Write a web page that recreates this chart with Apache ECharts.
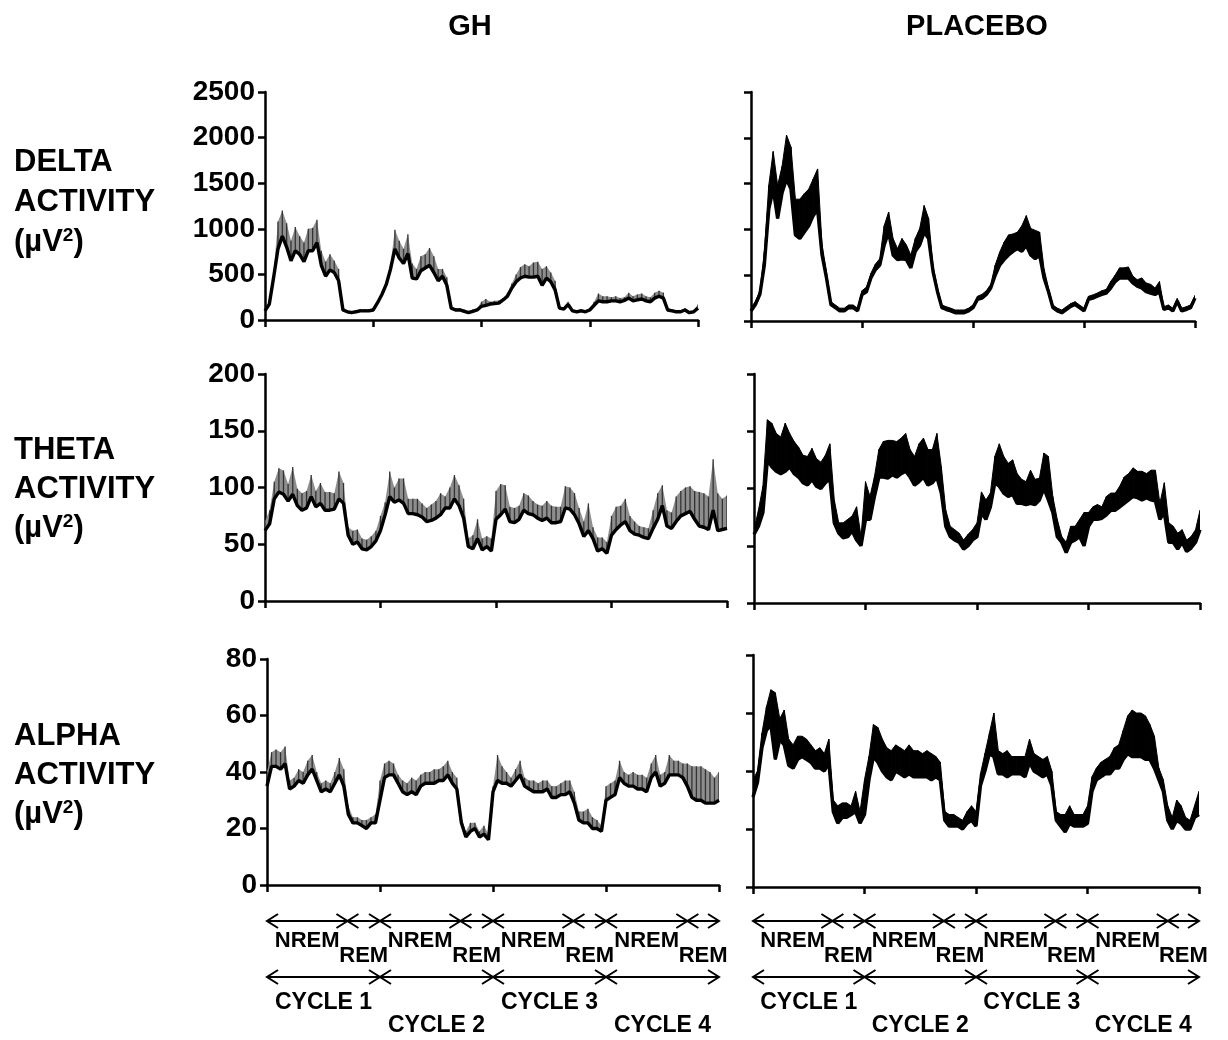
<!DOCTYPE html>
<html>
<head>
<meta charset="utf-8">
<script src="https://cdn.jsdelivr.net/npm/echarts@6/dist/echarts.min.js"></script>
<style>
  html, body { margin: 0; padding: 0; background: #fff; }
  #chart { width: 1228px; height: 1040px; }
</style>
</head>
<body>
<div id="chart"></div>
<script>
// x: 25 time bins per sleep cycle, 4 cycles (NREM then REM in each)
const cycleTicks = [0, 25, 50, 75, 100]
const stageBounds = [0, 17.8, 25, 42.8, 50, 67.8, 75, 93, 100]
const stageNames = ['NREM', 'REM', 'NREM', 'REM', 'NREM', 'REM', 'NREM', 'REM']
const cycleNames = ['CYCLE 1', 'CYCLE 2', 'CYCLE 3', 'CYCLE 4']

// DELTA (uV^2): mean and mean+SEM
const deltaGhMean = [
  100, 175, 470, 780, 920, 800, 650, 760, 720, 640,
  760, 760, 850, 600, 480, 550, 520, 430, 110, 90,
  80, 90, 100, 100, 100, 110, 190, 280, 390, 560,
  780, 680, 620, 730, 460, 450, 540, 570, 600, 520,
  430, 480, 380, 130, 110, 110, 95, 80, 95, 110,
  150, 160, 175, 180, 185, 220, 260, 350, 420, 460,
  480, 470, 470, 480, 380, 460, 420, 330, 130, 120,
  170, 100, 90, 100, 90, 110, 160, 210, 200, 200,
  210, 210, 200, 215, 240, 210, 220, 230, 210, 200,
  240, 260, 240, 110, 100, 90, 90, 110, 80, 90,
  130]
const deltaGhHigh = [
  110, 200, 520, 1080, 1200, 1060, 870, 1020, 920, 850,
  1000, 1010, 1100, 760, 640, 720, 650, 560, 140, 110,
  100, 110, 120, 120, 120, 130, 210, 310, 420, 620,
  990, 870, 780, 940, 620, 560, 700, 720, 790, 700,
  560, 560, 470, 150, 130, 130, 115, 100, 115, 130,
  200, 230, 200, 210, 215, 240, 300, 400, 500, 580,
  610, 590, 630, 640, 560, 590, 520, 430, 150, 140,
  200, 120, 110, 120, 110, 130, 200, 290, 260, 260,
  250, 260, 240, 250, 300, 260, 280, 290, 260, 250,
  300, 320, 300, 130, 120, 110, 110, 130, 100, 110,
  170]
const deltaPlMean = [
  110, 180, 290, 610, 1220, 1440, 1120, 1400, 1550, 1440,
  940, 900, 970, 1040, 1150, 1220, 720, 470, 180, 145,
  110, 110, 145, 145, 110, 290, 320, 470, 560, 610,
  830, 970, 720, 670, 680, 670, 580, 760, 830, 970,
  900, 540, 320, 145, 125, 110, 90, 90, 90, 110,
  145, 235, 250, 290, 360, 500, 610, 670, 720, 760,
  790, 760, 830, 720, 680, 720, 470, 320, 145, 110,
  90, 125, 160, 180, 145, 110, 235, 250, 270, 290,
  305, 360, 430, 470, 470, 470, 415, 380, 360, 320,
  305, 290, 320, 125, 145, 110, 215, 110, 125, 145,
  250]
const deltaPlHigh = [
  145, 215, 330, 750, 1480, 1850, 1480, 1690, 2030, 1900,
  1330, 1330, 1390, 1440, 1550, 1660, 830, 540, 210, 175,
  140, 140, 175, 175, 140, 330, 370, 520, 620, 680,
  1040, 1190, 900, 790, 900, 830, 720, 900, 1010, 1260,
  1120, 600, 360, 175, 155, 140, 120, 120, 120, 140,
  175, 270, 290, 330, 400, 610, 750, 860, 940, 950,
  970, 1040, 1150, 1010, 990, 970, 570, 360, 175, 140,
  120, 155, 190, 210, 175, 140, 270, 285, 305, 330,
  345, 430, 500, 580, 580, 590, 490, 450, 470, 415,
  400, 360, 430, 155, 175, 140, 245, 140, 155, 175,
  280]

// THETA
const thetaGhMean = [
  62, 68, 90, 96, 94, 88, 94, 84, 80, 82,
  92, 83, 86, 80, 80, 81, 90, 86, 58, 50,
  52, 46, 45, 48, 53, 62, 76, 92, 87, 89,
  86, 77, 77, 76, 74, 70, 71, 73, 76, 82,
  82, 90, 84, 73, 48, 46, 55, 45, 48, 44,
  72, 76, 81, 70, 69, 72, 80, 77, 76, 73,
  71, 73, 69, 69, 70, 82, 81, 76, 68, 57,
  62, 55, 44, 46, 42, 58, 63, 67, 70, 62,
  59, 58, 56, 55, 64, 72, 84, 66, 64, 70,
  75, 77, 79, 72, 66, 65, 63, 80, 62, 63,
  64]
const thetaGhHigh = [
  70, 80, 105, 117, 115, 103, 118, 99, 95, 97,
  111, 97, 104, 96, 96, 95, 114, 104, 65, 62,
  63, 55, 54, 57, 62, 75, 87, 114, 100, 108,
  108, 90, 90, 90, 86, 82, 85, 88, 95, 92,
  100, 111, 102, 90, 55, 58, 72, 55, 57, 55,
  97, 103, 102, 83, 82, 84, 95, 93, 88, 85,
  84, 88, 84, 83, 83, 101, 100, 95, 82, 70,
  86, 65, 56, 56, 52, 75, 83, 84, 90, 75,
  70, 66, 65, 64, 80, 95, 102, 80, 78, 92,
  97, 100, 101, 97, 96, 95, 92, 125, 95, 90,
  93]
const thetaPlMean = [
  60, 67, 79, 125, 119, 115, 113, 115, 119, 113,
  110, 105, 103, 108, 102, 100, 105, 109, 70, 61,
  57, 58, 63, 55, 50, 73, 73, 93, 110, 110,
  109, 112, 110, 113, 115, 110, 103, 106, 110, 103,
  105, 110, 96, 67, 58, 55, 53, 47, 50, 55,
  58, 79, 73, 84, 105, 102, 96, 93, 95, 87,
  87, 86, 87, 86, 90, 100, 90, 79, 58, 53,
  44, 53, 55, 58, 50, 67, 73, 73, 74, 77,
  81, 81, 84, 87, 90, 93, 92, 90, 92, 90,
  89, 73, 79, 53, 53, 47, 53, 45, 48, 53,
  64]
const thetaPlHigh = [
  64, 81, 102, 160, 157, 148, 145, 157, 148, 141,
  136, 129, 128, 135, 126, 123, 129, 139, 90, 70,
  70, 73, 76, 84, 58, 106, 93, 110, 134, 141,
  142, 142, 141, 144, 148, 134, 128, 139, 144, 134,
  134, 148, 119, 81, 67, 64, 61, 55, 60, 64,
  70, 97, 90, 96, 128, 139, 128, 122, 125, 113,
  108, 106, 116, 108, 109, 131, 128, 93, 73, 58,
  53, 67, 67, 73, 79, 79, 84, 86, 84, 93,
  96, 96, 102, 110, 113, 118, 115, 115, 113, 116,
  116, 87, 105, 70, 67, 61, 64, 55, 58, 64,
  81]

// ALPHA
const alphaGhMean = [
  35, 42, 42, 41, 43, 34, 35, 37, 36, 39,
  41, 37, 33, 34, 33, 36, 39, 35, 25, 22,
  22, 21, 20, 22, 22, 30, 38, 39, 39, 36,
  33, 32, 33, 32, 35, 36, 36, 36, 37, 37,
  39, 36, 34, 22, 17, 19, 20, 17, 18, 16,
  33, 37, 36, 36, 35, 37, 39, 35, 34, 33,
  33, 33, 34, 31, 31, 32, 32, 33, 29, 23,
  22, 22, 20, 20, 19, 30, 31, 32, 38, 36,
  35, 35, 34, 34, 33, 38, 40, 35, 36, 39,
  39, 39, 38, 35, 31, 30, 30, 29, 29, 29,
  30]
const alphaGhHigh = [
  40, 47, 48, 47, 49, 37, 38, 41, 40, 44,
  46, 40, 36, 37, 36, 40, 45, 41, 28, 24,
  24, 23, 23, 24, 25, 37, 43, 44, 43, 39,
  37, 36, 38, 37, 39, 40, 40, 41, 41, 42,
  44, 40, 38, 24, 19, 22, 22, 19, 21, 18,
  35, 46, 42, 40, 38, 41, 44, 38, 37, 37,
  36, 37, 37, 35, 35, 36, 37, 37, 33, 26,
  26, 27, 24, 23, 21, 35, 36, 37, 44, 40,
  39, 40, 39, 39, 38, 43, 46, 39, 40, 46,
  44, 44, 43, 43, 42, 42, 42, 41, 40, 38,
  40]
const alphaPlMean = [
  31, 36, 48, 54, 56, 44, 51, 49, 42, 41,
  44, 45, 44, 43, 41, 41, 40, 43, 26, 22,
  24, 24, 25, 26, 22, 25, 37, 45, 43, 40,
  38, 37, 40, 39, 38, 39, 38, 38, 38, 38,
  37, 38, 37, 23, 21, 21, 21, 20, 22, 23,
  21, 35, 40, 46, 45, 39, 39, 38, 39, 39,
  39, 38, 43, 40, 39, 38, 39, 35, 23, 21,
  19, 22, 21, 21, 21, 22, 33, 37, 38, 39,
  39, 41, 41, 44, 46, 45, 45, 45, 44, 44,
  41, 37, 33, 23, 20, 23, 22, 20, 20, 24,
  25]
const alphaPlHigh = [
  37, 40, 53, 62, 68, 67, 58, 61, 51, 49,
  52, 52, 51, 49, 47, 48, 46, 51, 30, 28,
  29, 29, 28, 33, 26, 37, 45, 56, 55, 51,
  48, 47, 49, 48, 47, 49, 47, 47, 46, 47,
  46, 45, 43, 26, 25, 25, 24, 23, 26, 28,
  26, 39, 46, 53, 60, 47, 46, 47, 45, 45,
  45, 45, 51, 46, 45, 44, 45, 40, 26, 25,
  25, 28, 25, 25, 25, 28, 38, 41, 43, 44,
  45, 48, 49, 54, 59, 61, 60, 60, 59, 56,
  52, 41, 37, 28, 24, 30, 28, 24, 23, 28,
  33]

const FONT = '"Liberation Sans", Arial, sans-serif'

// panel layout: [left, top, width, height]
const panels = [
  { box: [265, 92, 433, 228], max: 2500, step: 500, mean: deltaGhMean, high: deltaGhHigh, labels: true, dense: false },
  { box: [265, 374, 462, 227], max: 200, step: 50, mean: thetaGhMean, high: thetaGhHigh, labels: true, dense: false },
  { box: [267, 659, 452, 226], max: 80, step: 20, mean: alphaGhMean, high: alphaGhHigh, labels: true, dense: false },
  { box: [751, 92, 444, 229], max: 2500, step: 500, mean: deltaPlMean, high: deltaPlHigh, labels: false, dense: true },
  { box: [754, 374, 446, 229], max: 200, step: 50, mean: thetaPlMean, high: thetaPlHigh, labels: false, dense: true },
  { box: [753, 655, 446, 232], max: 80, step: 20, mean: alphaPlMean, high: alphaPlHigh, labels: false, dense: true }
]

// error region between point i and i+1 (mean .. mean+SEM)
function bandItem(params, api) {
  const i = params.dataIndexInside
  const x = api.value(0)
  const hasNext = i + 1 < params.dataInsideLength
  const nx = hasNext ? api.value(0, i + 1) : x
  const p1 = api.coord([x, api.value(2)])
  const p2 = api.coord([nx, hasNext ? api.value(2, i + 1) : api.value(2)])
  const p3 = api.coord([nx, hasNext ? api.value(1, i + 1) : api.value(1)])
  const p4 = api.coord([x, api.value(1)])
  const dense = params.seriesName === 'placebo'
  const children = []
  if (hasNext) {
    children.push({
      type: 'polygon',
      shape: { points: [p1, p2, p3, p4] },
      style: { fill: dense ? '#000' : '#8e8e8e', stroke: dense ? '#000' : null, lineWidth: 1 }
    })
  }
  if (!dense) {
    // GH: visible individual error bars
    children.push({
      type: 'line',
      shape: { x1: p4[0], y1: p4[1], x2: p1[0], y2: p1[1] },
      style: { stroke: '#333', lineWidth: 1.3 }
    })
  }
  return { type: 'group', children }
}

const axisLine = { show: true, lineStyle: { color: '#000', width: 2.5 } }
const axisTick = { show: true, length: 7, lineStyle: { color: '#000', width: 2.5 } }

const grid = []
const xAxis = []
const yAxis = []
const series = []

panels.forEach((p, k) => {
  grid.push({
    left: p.box[0], top: p.box[1], width: p.box[2], height: p.box[3],
    containLabel: false, outerBoundsMode: 'none'
  })
  xAxis.push({
    type: 'value', gridIndex: k, min: 0, max: 100, interval: 25,
    axisLine, axisTick, axisLabel: { show: false }, splitLine: { show: false }
  })
  yAxis.push({
    type: 'value', gridIndex: k, min: 0, max: p.max, interval: p.step,
    axisLine, axisTick, splitLine: { show: false },
    axisLabel: {
      show: p.labels, color: '#000', fontFamily: FONT, fontWeight: 'bold',
      fontSize: 28, margin: 10, formatter: v => String(v)
    }
  })
  const rows = p.mean.map((v, i) => [i, v, p.high[i]])
  series.push({
    type: 'custom', name: p.dense ? 'placebo' : 'gh',
    xAxisIndex: k, yAxisIndex: k, clip: true,
    renderItem: bandItem,
    encode: { x: 0, y: [1, 2] },
    data: rows, silent: true, z: 1
  })
  series.push({
    type: 'line', xAxisIndex: k, yAxisIndex: k, symbol: 'none',
    lineStyle: { color: '#000', width: 3.4 },
    data: p.mean.map((v, i) => [i, v]), silent: true, z: 2
  })
})

function txt(x, y, s, size, align) {
  return {
    type: 'text', x, y,
    style: {
      text: s, fill: '#000', font: 'bold ' + size + 'px ' + FONT,
      align: align || 'center', verticalAlign: 'middle',
      rich: {
        sup: { fontSize: Math.round(size * 0.62), fontWeight: 'bold', fontFamily: FONT, verticalAlign: 'top', fill: '#000' }
      }
    }
  }
}

const rowLabels = [
  ['DELTA', 162], ['ACTIVITY', 202], ['(µV{sup|2})', 242],
  ['THETA', 450], ['ACTIVITY', 489], ['(µV{sup|2})', 528],
  ['ALPHA', 736], ['ACTIVITY', 775], ['(µV{sup|2})', 814]
]

const chart = echarts.init(document.getElementById('chart'), null, { renderer: 'canvas' })
chart.setOption({
  animation: false,
  backgroundColor: '#fff',
  grid, xAxis, yAxis, series
})

// open chevron arrow between two pixel x positions
function arrow(x1, x2, y) {
  const h = 11
  const v = 7
  return [
    { type: 'line', shape: { x1, y1: y, x2, y2: y }, style: { stroke: '#000', lineWidth: 2 } },
    { type: 'polyline', shape: { points: [[x1 + h, y - v], [x1, y], [x1 + h, y + v]] }, style: { stroke: '#000', lineWidth: 2, fill: null } },
    { type: 'polyline', shape: { points: [[x2 - h, y - v], [x2, y], [x2 - h, y + v]] }, style: { stroke: '#000', lineWidth: 2, fill: null } }
  ]
}

const extras = []
extras.push(txt(470, 27, 'GH', 29))
extras.push(txt(977, 27, 'PLACEBO', 29))
rowLabels.forEach(r => extras.push(txt(14, r[1], r[0], 31, 'left')))

// stage and cycle markers under the alpha panels, placed with the x scale
;[2, 5].forEach(gi => {
  const px = v => chart.convertToPixel({ gridIndex: gi }, [v, 0])[0]
  for (let s = 0; s < stageNames.length; s++) {
    const a = px(stageBounds[s])
    const b = px(stageBounds[s + 1])
    extras.push(...arrow(a, b, 921))
    const isRem = stageNames[s] === 'REM'
    extras.push(txt((a + b) / 2, isRem ? 956 : 941, stageNames[s], 22))
  }
  for (let c = 0; c < cycleNames.length; c++) {
    const a = px(cycleTicks[c])
    const b = px(cycleTicks[c + 1])
    extras.push(...arrow(a, b, 977))
    extras.push(txt((a + b) / 2, c % 2 === 0 ? 1003 : 1026, cycleNames[c], 23))
  }
})

chart.setOption({ graphic: { elements: extras } })
</script>
</body>
</html>
